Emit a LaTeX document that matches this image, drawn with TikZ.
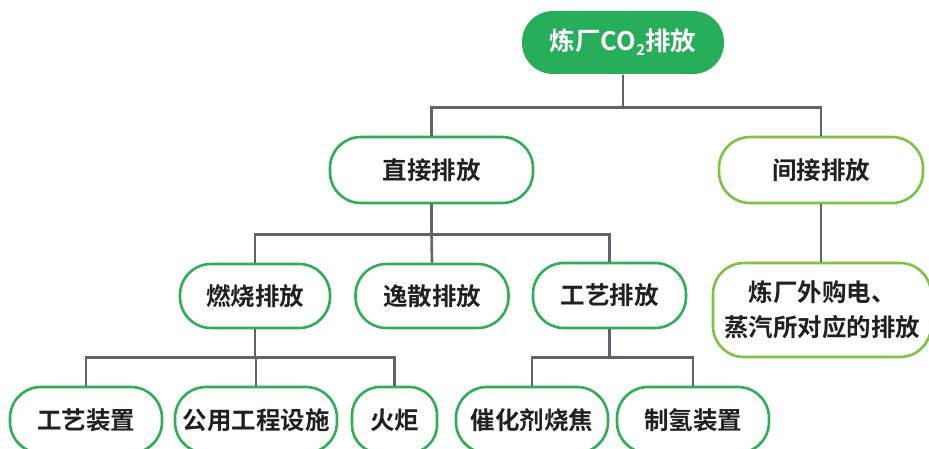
\documentclass[tikz,border=0pt]{standalone}
\usepackage{fontspec}
\newfontfamily\cjk{Noto Sans CJK SC}[BoldFont={Noto Sans CJK SC Bold}]
\definecolor{rootgreen}{HTML}{27AE5A}
\definecolor{boxgreen}{HTML}{2EAF55}
\definecolor{lightgreen}{HTML}{7DC243}
\definecolor{conngray}{HTML}{606369}
\definecolor{txt}{HTML}{231F20}
\tikzset{
  base/.style={rectangle, inner sep=0pt, line width=2.6pt, font=\cjk\bfseries\fontsize{24.5}{30}\selectfont, text=txt},
  rootbox/.style={base, fill=rootgreen, draw=none, text=white, rounded corners=31pt, minimum width=202pt, minimum height=63pt, font=\cjk\bfseries\fontsize{25.5}{30}\selectfont},
  dbox/.style={base, draw=boxgreen, fill=white, rounded corners=31pt},
  ibox/.style={base, draw=lightgreen, fill=white, rounded corners=31pt},
  conn/.style={draw=conngray, line width=2.6pt},
}
\begin{document}
\begin{tikzpicture}[x=1pt,y=-1pt]
\useasboundingbox (0,0) rectangle (929,449);
\fill[white] (0,0) rectangle (929,449);
\node[rootbox] (root) at (623,42.5) {炼厂CO\raisebox{-0.35ex}{\fontsize{15}{15}\selectfont 2}排放};
\node[dbox, minimum width=203pt, minimum height=66pt] (direct) at (431.5,170) {直接排放};
\node[ibox, minimum width=204pt, minimum height=66pt] (indirect) at (821,170) {间接排放};
\node[dbox, minimum width=150pt, minimum height=64pt] (ranshao) at (255,296) {燃烧排放};
\node[dbox, minimum width=153pt, minimum height=64pt] (yisan) at (432,296) {逸散排放};
\node[dbox, minimum width=153pt, minimum height=65pt] (gongyi) at (609.5,295.5) {工艺排放};
\node[ibox, minimum width=218pt, minimum height=94pt, align=center, font=\cjk\bfseries\fontsize{24.5}{35}\selectfont] (waigou) at (822,310) {炼厂外购电、\\蒸汽所对应的排放};
\node[dbox, minimum width=152pt, minimum height=66pt] (gyzz) at (86,420) {工艺装置};
\node[dbox, minimum width=162pt, minimum height=66pt] (gygc) at (256,420) {公用工程设施};
\node[dbox, minimum width=85pt, minimum height=66pt, rounded corners=28pt] (huoju) at (394.5,420) {火炬};
\node[dbox, minimum width=152pt, minimum height=66pt] (cuihua) at (532,420) {催化剂烧焦};
\node[dbox, minimum width=152pt, minimum height=66pt] (zhiqing) at (693,420) {制氢装置};
% connectors
\draw[conn] (root.south) -- ++(0,32) coordinate (b0);
\draw[conn] (b0) -| (direct.north);
\draw[conn] (b0) -| (indirect.north);
\draw[conn] (direct.south) -- ++(0,30) coordinate (b1);
\draw[conn] (b1) -| (ranshao.north);
\draw[conn] (b1) -- (yisan.north);
\draw[conn] (b1) -| (gongyi.north);
\draw[conn] (indirect.south) -- (indirect.south |- waigou.north);
\draw[conn] (ranshao.south) -- ++(0,28) coordinate (b2);
\draw[conn] (b2) -| (gyzz.north);
\draw[conn] (b2) -| (gygc.north);
\draw[conn] (b2) -| (huoju.north);
\draw[conn] (gongyi.south) -- ++(0,28) coordinate (b3);
\draw[conn] (b3) -| (cuihua.north);
\draw[conn] (b3) -| (zhiqing.north);
\end{tikzpicture}
\end{document}
